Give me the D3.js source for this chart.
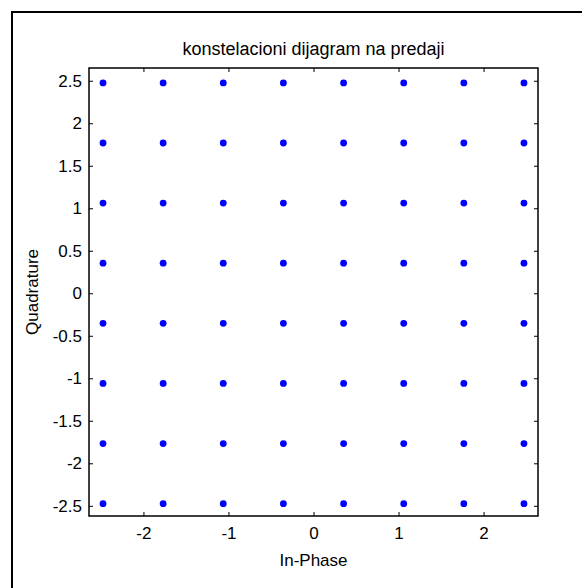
<!DOCTYPE html>
<html>
<head>
<meta charset="utf-8">
<script src="https://cdn.jsdelivr.net/npm/d3@7"></script>
<style>
  html, body { margin: 0; padding: 0; background: #fff; }
  svg { display: block; }
  text { font-family: "Liberation Sans", Arial, sans-serif; fill: #000; }
</style>
</head>
<body>
<svg id="chart" width="582" height="588"></svg>
<script>
// 64-QAM constellation levels (odd multiples of 1/sqrt(8))
const inPhaseLevels = [-2.475, -1.768, -1.061, -0.354, 0.354, 1.061, 1.768, 2.475];
const quadratureLevels = [-2.475, -1.768, -1.061, -0.354, 0.354, 1.061, 1.768, 2.475];
const xTicks = [-2, -1, 0, 1, 2];
const yTicks = [-2.5, -2, -1.5, -1, -0.5, 0, 0.5, 1, 1.5, 2, 2.5];
const titleText = "konstelacioni dijagram na predaji";
const xLabel = "In-Phase";
const yLabel = "Quadrature";

const svg = d3.select("#chart");
const plot = { left: 89, top: 68, right: 538, bottom: 516 };
const font = "'Liberation Sans', Arial, sans-serif";

// outer frame (left and top edges)
svg.append("path")
  .attr("d", "M12,588 L12,12 L582,12")
  .attr("fill", "none").attr("stroke", "#000").attr("stroke-width", 2);

const x = d3.scaleLinear().domain([-2.64, 2.64]).range([plot.left, plot.right]);
const y = d3.scaleLinear().domain([-2.62, 2.65]).range([plot.bottom, plot.top]);

// tick labels use a plain hyphen for negatives
const fmt = d => String(d);
const tickLen = 4;
const g = svg.append("g");

const axBottom = d3.axisBottom(x).tickValues(xTicks).tickSize(-tickLen).tickPadding(11).tickFormat(fmt);
const axTop = d3.axisTop(x).tickValues(xTicks).tickSize(-tickLen).tickFormat("");
const axLeft = d3.axisLeft(y).tickValues(yTicks).tickSize(-tickLen).tickPadding(7).tickFormat(fmt);
const axRight = d3.axisRight(y).tickValues(yTicks).tickSize(-tickLen).tickFormat("");

function styleAxis(sel) {
  sel.select(".domain").remove();
  sel.selectAll("line").attr("stroke", "#000").attr("stroke-width", 1);
  sel.selectAll("text").style("font-size", "17px").attr("fill", "#000")
    .style("font-family", font);
}

g.append("g").attr("transform", `translate(0,${plot.bottom})`).call(axBottom).call(styleAxis);
g.append("g").attr("transform", `translate(0,${plot.top})`).call(axTop).call(styleAxis);
g.append("g").attr("transform", `translate(${plot.left},0)`).call(axLeft).call(styleAxis);
g.append("g").attr("transform", `translate(${plot.right},0)`).call(axRight).call(styleAxis);

// axes box
g.append("rect")
  .attr("x", plot.left).attr("y", plot.top)
  .attr("width", plot.right - plot.left).attr("height", plot.bottom - plot.top)
  .attr("fill", "none").attr("stroke", "#000").attr("stroke-width", 1.5);

// constellation points
const points = [];
quadratureLevels.forEach(q => inPhaseLevels.forEach(i => points.push({ i, q })));
g.append("g").selectAll("circle").data(points).join("circle")
  .attr("cx", d => x(d.i)).attr("cy", d => y(d.q)).attr("r", 3.4)
  .attr("fill", "#0000ff");

// titles
svg.append("text").attr("x", (plot.left + plot.right) / 2).attr("y", 55)
  .attr("text-anchor", "middle").style("font-size", "18px").text(titleText);
svg.append("text").attr("x", (plot.left + plot.right) / 2).attr("y", 566)
  .attr("text-anchor", "middle").style("font-size", "17px").text(xLabel);
svg.append("text")
  .attr("transform", `translate(38,${(plot.top + plot.bottom) / 2}) rotate(-90)`)
  .attr("text-anchor", "middle").style("font-size", "17px").text(yLabel);
</script>
</body>
</html>
